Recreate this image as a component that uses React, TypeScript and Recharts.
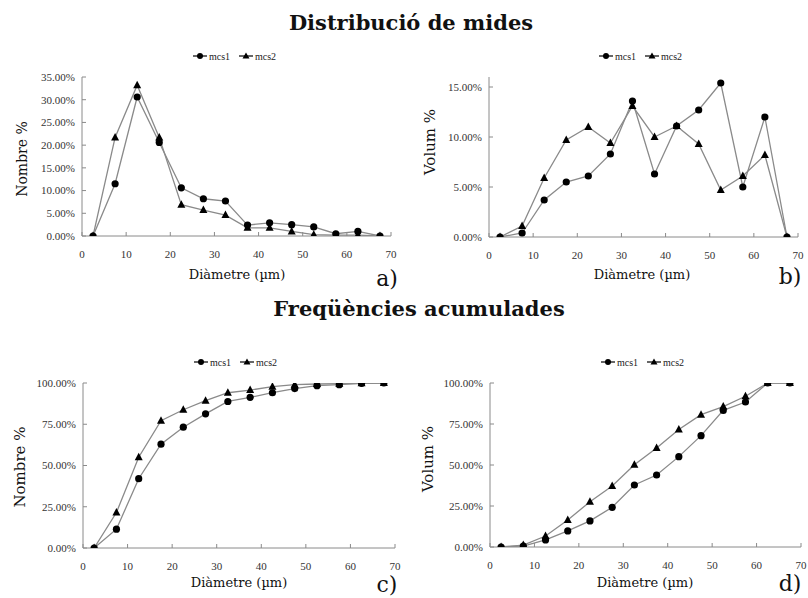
import React from "react";
import { LineChart, Line, XAxis, YAxis } from "recharts";

// diameter class centres (µm)
const diametres = [2.5, 7.5, 12.5, 17.5, 22.5, 27.5, 32.5, 37.5, 42.5, 47.5, 52.5, 57.5, 62.5, 67.5];
const xTicks = [0, 10, 20, 30, 40, 50, 60, 70];

// values in %
const nombreMcs1 = [0, 11.5, 30.6, 20.6, 10.6, 8.2, 7.7, 2.4, 2.9, 2.5, 2.0, 0.5, 1.0, 0];
const nombreMcs2 = [0, 21.7, 33.2, 21.7, 6.9, 5.7, 4.6, 1.8, 1.8, 1.0, 0.3, 0.2, 0.2, 0];
const volumMcs1 = [0, 0.4, 3.7, 5.5, 6.1, 8.3, 13.6, 6.3, 11.1, 12.7, 15.4, 5.0, 12.0, 0];
const volumMcs2 = [0, 1.1, 5.9, 9.7, 11.0, 9.4, 13.1, 10.0, 11.1, 9.3, 4.7, 6.1, 8.2, 0];
const nombreAcumMcs1 = [0, 11.4, 42.0, 62.9, 73.2, 81.3, 88.8, 91.3, 94.1, 96.6, 98.4, 99.0, 99.8, 100];
const nombreAcumMcs2 = [0, 21.5, 55.0, 77.1, 83.8, 89.3, 94.1, 95.7, 97.8, 99.0, 99.4, 99.6, 99.8, 100];
const volumAcumMcs1 = [0, 0.6, 4.3, 9.8, 15.9, 24.2, 37.8, 43.9, 55.1, 67.9, 83.3, 88.4, 100, 100];
const volumAcumMcs2 = [0, 1.2, 6.7, 16.5, 27.6, 37.2, 50.2, 60.4, 71.7, 80.7, 85.6, 91.9, 100, 100];

const ticksNombre = [0, 5, 10, 15, 20, 25, 30, 35];
const ticksVolum = [0, 5, 10, 15];
const ticksAcum = [0, 25, 50, 75, 100];

const build = (a: number[], b: number[]) =>
  diametres.map((d, i) => ({ d, mcs1: a[i], mcs2: b[i] }));

const LINE = "#8a8a8a";
const SERIF = "'DejaVu Serif', serif";
const TICKFONT = "Liberation Serif";

const circleDot = (p: any) => (
  <circle key={`c${p.index}`} cx={p.cx} cy={p.cy} r={3.6} fill="#000" />
);
const triDot = (p: any) => (
  <polygon
    key={`t${p.index}`}
    points={`${p.cx},${p.cy - 4.5} ${p.cx - 4},${p.cy + 3} ${p.cx + 4},${p.cy + 3}`}
    fill="#000"
  />
);

function Legend({ x, y }: { x: number; y: number }) {
  return (
    <svg
      width={100}
      height={14}
      style={{ position: "absolute", left: x - 50, top: y - 7, fontFamily: TICKFONT }}
    >
      <line x1={6} x2={20} y1={7} y2={7} stroke="#000" strokeWidth={1.2} />
      <circle cx={13} cy={7} r={3} fill="#000" />
      <text x={22} y={10.5} fontSize={10} style={{ fontFamily: TICKFONT }} fill="#222">mcs1</text>
      <line x1={52} x2={66} y1={7} y2={7} stroke="#000" strokeWidth={1.2} />
      <polygon points="59,3.5 55.5,9.5 62.5,9.5" fill="#000" />
      <text x={68} y={10.5} fontSize={10} style={{ fontFamily: TICKFONT }} fill="#222">mcs2</text>
    </svg>
  );
}

function Panel(props: {
  left: number;
  top: number;
  height: number;
  margin: { top: number; right: number; bottom: number; left: number };
  data: any[];
  yDomain: [number, number];
  yTicks: number[];
}) {
  const { left, top, height, margin, data, yDomain, yTicks } = props;
  const tickStyle = { fill: "#333", fontSize: 11, style: { fontFamily: TICKFONT } };
  return (
    <div style={{ position: "absolute", left, top, fontFamily: TICKFONT }}>
      <LineChart width={404} height={height} data={data} margin={margin}>
        <XAxis
          type="number"
          dataKey="d"
          domain={[0, 70]}
          ticks={xTicks}
          height={30}
          stroke={LINE}
          tickSize={4}
          tickMargin={10}
          tickLine={{ transform: "translate(0,-4)", stroke: LINE } as any}
          tick={tickStyle as any}
        />
        <YAxis
          type="number"
          domain={yDomain}
          ticks={yTicks}
          width={60}
          allowDataOverflow
          stroke={LINE}
          tickSize={4}
          tickMargin={3}
          tickLine={{ transform: "translate(4,0)", stroke: LINE } as any}
          tickFormatter={(v: number) => `${v.toFixed(2)}%`}
          tick={tickStyle as any}
        />
        <Line
          type="linear"
          dataKey="mcs1"
          stroke={LINE}
          strokeWidth={1.3}
          dot={circleDot}
          isAnimationActive={false}
        />
        <Line
          type="linear"
          dataKey="mcs2"
          stroke={LINE}
          strokeWidth={1.3}
          dot={triDot}
          isAnimationActive={false}
        />
      </LineChart>
    </div>
  );
}

const Txt = ({ x, y, size, children, bold, rotate }: any) => (
  <div
    style={{
      position: "absolute",
      left: x,
      top: y,
      transform: `translate(-50%,-50%)${rotate ? " rotate(-90deg)" : ""}`,
      fontFamily: SERIF,
      fontSize: size,
      fontWeight: bold ? "bold" : "normal",
      whiteSpace: "nowrap",
      color: "#111",
      lineHeight: 1,
    }}
  >
    {children}
  </div>
);

export default function App() {
  return (
    <div
      style={{
        position: "absolute",
        left: 0,
        top: 0,
        width: 808,
        height: 598,
        background: "#fff",
        overflow: "hidden",
      }}
    >
      <Txt x={411} y={22} size={21} bold>Distribució de mides</Txt>
      <Txt x={419} y={308} size={21} bold>Freqüències acumulades</Txt>

      <Legend x={237} y={56} />
      <Legend x={643} y={56} />
      <Legend x={238} y={362} />
      <Legend x={645} y={362} />

      <Panel
        left={0}
        top={40}
        height={230}
        margin={{ top: 37, right: 13, bottom: 4, left: 22 }}
        data={build(nombreMcs1, nombreMcs2)}
        yDomain={[0, 35]}
        yTicks={ticksNombre}
      />
      <Panel
        left={404}
        top={40}
        height={230}
        margin={{ top: 37, right: 10, bottom: 3, left: 25 }}
        data={build(volumMcs1, volumMcs2)}
        yDomain={[0, 16]}
        yTicks={ticksVolum}
      />
      <Panel
        left={0}
        top={340}
        height={240}
        margin={{ top: 43, right: 9, bottom: 2, left: 23 }}
        data={build(nombreAcumMcs1, nombreAcumMcs2)}
        yDomain={[0, 100]}
        yTicks={ticksAcum}
      />
      <Panel
        left={404}
        top={340}
        height={240}
        margin={{ top: 43, right: 7, bottom: 3, left: 26 }}
        data={build(volumAcumMcs1, volumAcumMcs2)}
        yDomain={[0, 100]}
        yTicks={ticksAcum}
      />

      <Txt x={237} y={274} size={13}>Diàmetre (µm)</Txt>
      <Txt x={642} y={274} size={13}>Diàmetre (µm)</Txt>
      <Txt x={239} y={582} size={13}>Diàmetre (µm)</Txt>
      <Txt x={645} y={582} size={13}>Diàmetre (µm)</Txt>

      <Txt x={22} y={159} size={14} rotate>Nombre %</Txt>
      <Txt x={430} y={142} size={15} rotate>Volum %</Txt>
      <Txt x={20} y={467} size={15} rotate>Nombre %</Txt>
      <Txt x={428} y={459} size={15} rotate>Volum %</Txt>

      <Txt x={387} y={279} size={22}>a)</Txt>
      <Txt x={790} y={277} size={22}>b)</Txt>
      <Txt x={387} y={585} size={22}>c)</Txt>
      <Txt x={790} y={584} size={22}>d)</Txt>
    </div>
  );
}
